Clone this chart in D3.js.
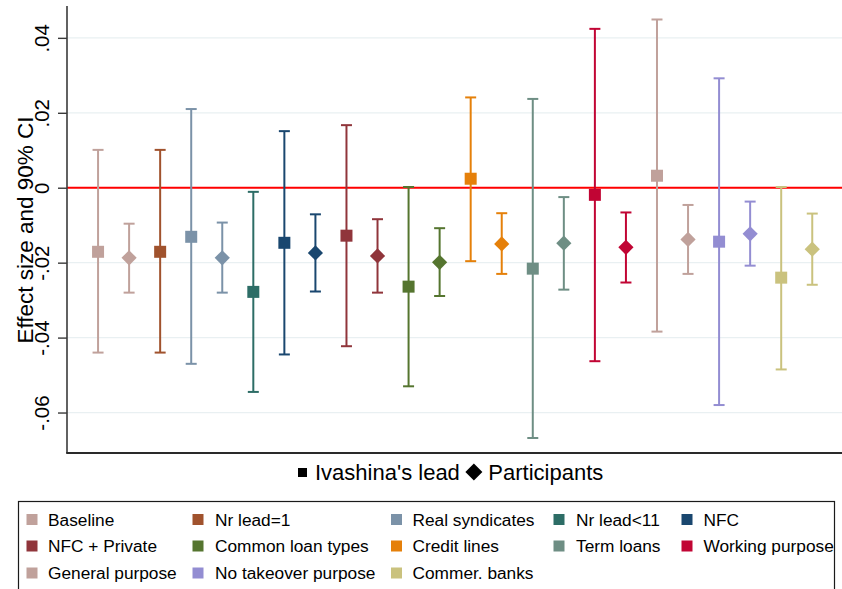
<!DOCTYPE html>
<html>
<head>
<meta charset="utf-8">
<script src="https://cdn.jsdelivr.net/npm/d3@7"></script>
<style>
  html, body { margin: 0; padding: 0; background: #ffffff; }
  svg { display: block; }
  text { font-family: Arial, "Liberation Sans", Helvetica, sans-serif; fill: #000; }
</style>
</head>
<body>
<svg id="chart" width="842" height="589"></svg>
<script>
// Specifications, in plotting order
const categories = [
  "Baseline", "Nr lead=1", "Real syndicates", "Nr lead<11", "NFC",
  "NFC + Private", "Common loan types", "Credit lines", "Term loans",
  "Working purpose", "General purpose", "No takeover purpose", "Commer. banks"
];
const colors = [
  "#c0a19b", "#a0522d", "#7b92a8", "#2d6d66", "#1a476f",
  "#90353b", "#55752f", "#e5800a", "#6e8e84",
  "#c10534", "#c0a19b", "#938dd2", "#cac27e"
];

// Ivashina's lead: point estimate and 90% CI bounds
const leadEst = [-0.0171, -0.0171, -0.0131, -0.0278, -0.0147, -0.0128, -0.0264,  0.0024, -0.0216, -0.0019,  0.0032, -0.0144, -0.0240];
const leadLo  = [-0.0440, -0.0440, -0.0470, -0.0545, -0.0445, -0.0423, -0.0530, -0.0196, -0.0668, -0.0463, -0.0384, -0.0580, -0.0485];
const leadHi  = [ 0.0101,  0.0101,  0.0210, -0.0011,  0.0151,  0.0167,  0.0002,  0.0241,  0.0237,  0.0424,  0.0449,  0.0292,  0.0002];

// Participants: point estimate and 90% CI bounds (null = not estimated)
const partEst = [-0.0187, null, -0.0187, null, -0.0174, -0.0182, -0.0199, -0.0150, -0.0148, -0.0159, -0.0138, -0.0123, -0.0164];
const partLo  = [-0.0280, null, -0.0280, null, -0.0277, -0.0280, -0.0289, -0.0230, -0.0272, -0.0253, -0.0230, -0.0208, -0.0259];
const partHi  = [-0.0096, null, -0.0093, null, -0.0071, -0.0084, -0.0108, -0.0068, -0.0025, -0.0066, -0.0046, -0.0037, -0.0069];

const yTicks = [0.04, 0.02, 0, -0.02, -0.04, -0.06];
const yTickLabels = [".04", ".02", "0", "-.02", "-.04", "-.06"];

// Flatten into one row per plotted estimate, slots numbered from 1
const rows = [];
categories.forEach((c, i) => {
  rows.push({cat: c, color: colors[i], type: "lead", est: leadEst[i], lo: leadLo[i], hi: leadHi[i]});
  if (partEst[i] !== null) {
    rows.push({cat: c, color: colors[i], type: "part", est: partEst[i], lo: partLo[i], hi: partHi[i]});
  }
});
rows.forEach((r, k) => { r.slot = k + 1; });

const svg = d3.select("#chart");
const plot = {left: 67, right: 843.3, top: 6, bottom: 453};

const x = d3.scaleLinear().domain([0, rows.length + 1]).range([plot.left, plot.right]);
const y = d3.scaleLinear().domain([-0.0708, 0.0485]).range([plot.bottom, plot.top]);

// Horizontal grid
svg.append("g")
  .selectAll("line")
  .data(yTicks)
  .join("line")
  .attr("x1", plot.left).attr("x2", 842)
  .attr("y1", d => y(d)).attr("y2", d => y(d))
  .attr("stroke", "#e9f0f2").attr("stroke-width", 1.3);

// Reference line at zero
svg.append("line")
  .attr("x1", plot.left).attr("x2", 842)
  .attr("y1", y(0)).attr("y2", y(0))
  .attr("stroke", "#ff0000").attr("stroke-width", 2);

// Confidence intervals with caps
const capHalf = 5.5;
const ci = svg.append("g").selectAll("g").data(rows).join("g")
  .attr("stroke", d => d.color).attr("stroke-width", 2).attr("fill", "none");
ci.append("line")
  .attr("x1", d => x(d.slot)).attr("x2", d => x(d.slot))
  .attr("y1", d => y(d.lo)).attr("y2", d => y(d.hi));
ci.append("line")
  .attr("x1", d => x(d.slot) - capHalf).attr("x2", d => x(d.slot) + capHalf)
  .attr("y1", d => y(d.hi)).attr("y2", d => y(d.hi));
ci.append("line")
  .attr("x1", d => x(d.slot) - capHalf).attr("x2", d => x(d.slot) + capHalf)
  .attr("y1", d => y(d.lo)).attr("y2", d => y(d.lo));

// Point estimates: squares for the lead, diamonds for participants
const sq = 6, dm = 7.6;
svg.append("g").selectAll("path").data(rows).join("path")
  .attr("fill", d => d.color)
  .attr("d", d => {
    const cx = x(d.slot), cy = y(d.est);
    if (d.type === "lead") {
      return `M${cx - sq},${cy - sq}H${cx + sq}V${cy + sq}H${cx - sq}Z`;
    }
    return `M${cx},${cy - dm}L${cx + dm},${cy}L${cx},${cy + dm}L${cx - dm},${cy}Z`;
  });

// Left axis
const yAxis = d3.axisLeft(y)
  .tickValues(yTicks)
  .tickFormat((d, i) => yTickLabels[i])
  .tickSize(9)
  .tickSizeOuter(0);
const gy = svg.append("g").attr("transform", `translate(${plot.left},0)`).call(yAxis);
gy.select(".domain").attr("stroke", "#3a3a3a").attr("stroke-width", 1.6)
  .attr("d", `M0,${plot.top}V${plot.bottom}`);
gy.selectAll(".tick line").attr("stroke", "#3a3a3a").attr("stroke-width", 1.4);
gy.selectAll(".tick text")
  .attr("font-size", 20.5)
  .attr("text-anchor", "middle")
  .attr("x", null).attr("dy", null)
  .attr("transform", "translate(-18,0) rotate(-90)")
  .attr("y", 0)
  .attr("fill", "#000");

// Bottom frame line
svg.append("line")
  .attr("x1", plot.left - 0.8).attr("x2", 842)
  .attr("y1", plot.bottom).attr("y2", plot.bottom)
  .attr("stroke", "#2a2a2a").attr("stroke-width", 1.8);

// Axis title
svg.append("text")
  .attr("transform", "translate(32.5,230) rotate(-90)")
  .attr("text-anchor", "middle")
  .attr("font-size", 22.5)
  .text("Effect size and 90% CI");

// Marker key below the plot
const key = svg.append("g");
key.append("rect").attr("x", 298).attr("y", 468).attr("width", 9).attr("height", 9).attr("fill", "#000");
const keyLead = key.append("text").attr("x", 315).attr("y", 479.5).attr("font-size", 22).text("Ivashina's lead");
const leadEnd = 315 + keyLead.node().getComputedTextLength();
const dCx = leadEnd + 14;
key.append("path")
  .attr("d", `M${dCx},${463.5}L${dCx + 8.5},472L${dCx},${480.5}L${dCx - 8.5},472Z`)
  .attr("fill", "#000");
key.append("text").attr("x", dCx + 14.5).attr("y", 479.5).attr("font-size", 22).text("Participants");

// Legend
const legend = svg.append("g");
legend.append("rect")
  .attr("x", 18.5).attr("y", 501.5).attr("width", 816).attr("height", 120)
  .attr("fill", "#fff").attr("stroke", "#1a1a1a").attr("stroke-width", 1.2);
const colSwatch = [26.5, 192.5, 391, 553.5, 681.5];
const colText = [48, 215, 412.5, 576, 703.5];
const rowY = [519.5, 546, 573];
const items = legend.selectAll("g.item").data(categories).join("g").attr("class", "item");
items.append("rect")
  .attr("x", (d, i) => colSwatch[i % 5])
  .attr("y", (d, i) => rowY[Math.floor(i / 5)] - 5.5)
  .attr("width", 11).attr("height", 11)
  .attr("fill", (d, i) => colors[i]);
items.append("text")
  .attr("x", (d, i) => colText[i % 5])
  .attr("y", (d, i) => rowY[Math.floor(i / 5)] + 6)
  .attr("font-size", 17.3)
  .text(d => d);
</script>
</body>
</html>
